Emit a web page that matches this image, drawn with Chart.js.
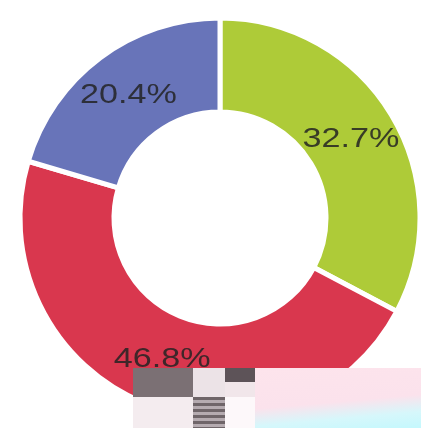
<!DOCTYPE html>
<html>
<head>
<meta charset="utf-8">
<script src="https://cdn.jsdelivr.net/npm/chart.js@4/dist/chart.umd.min.js"></script>
<style>
  html, body { margin: 0; padding: 0; background: #fff; }
  #wrap { position: relative; width: 421px; height: 428px; overflow: hidden; }
  .blk { position: absolute; }
</style>
</head>
<body>
<div id="wrap">
  <canvas id="donut" width="421" height="428"></canvas>
  <!-- smudged strip over the bottom of the picture -->
  <div class="blk" style="left:133px;top:368px;width:60px;height:29px;background:#7b7074;"></div>
  <div class="blk" style="left:133px;top:397px;width:60px;height:31px;background:#f4ecef;"></div>
  <div class="blk" style="left:193px;top:368px;width:32px;height:29px;background:#ece3e7;"></div>
  <div class="blk" style="left:225px;top:368px;width:30px;height:14px;background:#5d5358;"></div>
  <div class="blk" style="left:225px;top:382px;width:30px;height:15px;background:#f1e6ea;"></div>
  <div class="blk" style="left:193px;top:397px;width:32px;height:31px;background:repeating-linear-gradient(#6f6569 0 3px,#b5abb0 3px 6px);"></div>
  <div class="blk" style="left:225px;top:397px;width:30px;height:31px;background:#fdf8fa;"></div>
  <div class="blk" style="left:255px;top:368px;width:166px;height:60px;background:linear-gradient(175deg,#fde4ec 0%,#fbe2ec 55%,#d6f7fb 78%,#c4f8fd 100%);"></div>
</div>
<script>
const labels = ['A', 'B', 'C'];
const shares = [32.7, 46.8, 20.4];
const sliceColors = ['#aecb38', '#d9374e', '#6874b9'];

const pctLabels = {
    id: 'pctLabels',
    afterDatasetsDraw(chart) {
        const ctx = chart.ctx;
        const meta = chart.getDatasetMeta(0);
        ctx.save();
        ctx.font = '28px "Liberation Sans", Arial, sans-serif';
        ctx.fillStyle = 'rgba(35, 35, 35, 0.85)';
        ctx.textAlign = 'center';
        ctx.textBaseline = 'middle';
        meta.data.forEach((arc, i) => {
            const p = arc.tooltipPosition();
            ctx.save();
            ctx.translate(p.x, p.y);
            ctx.scale(1.22, 1);
            ctx.fillText(shares[i].toFixed(1) + '%', 0, 0);
            ctx.restore();
        });
        ctx.restore();
    }
};

new Chart(document.getElementById('donut'), {
    type: 'doughnut',
    data: {
        labels: labels,
        datasets: [{
            data: shares,
            backgroundColor: sliceColors,
            borderColor: '#ffffff',
            borderWidth: 5,
            radius: 200,
            cutout: '53%'
        }]
    },
    options: {
        responsive: false,
        animation: false,
        layout: { padding: { left: 22, right: 3, top: 20, bottom: 12 } },
        plugins: {
            legend: { display: false },
            tooltip: { enabled: false }
        }
    },
    plugins: [pctLabels]
});
</script>
</body>
</html>
